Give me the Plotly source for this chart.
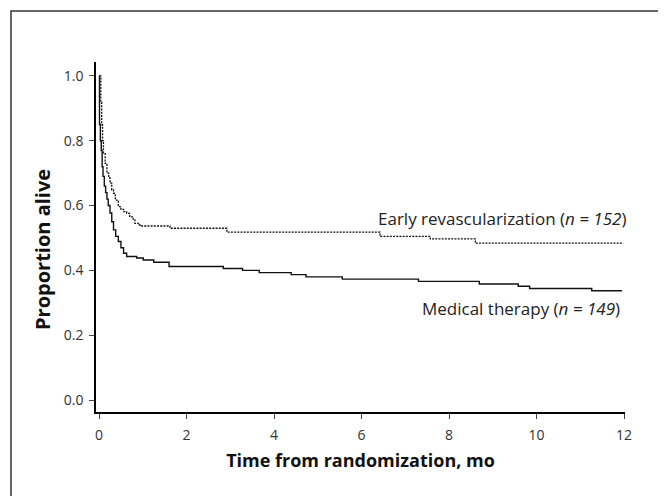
import plotly.graph_objects as go

# Kaplan-Meier step data
med_t = [0, 0.01, 0.03, 0.05, 0.07, 0.09, 0.12, 0.15, 0.18, 0.21, 0.25, 0.29, 0.33,
         0.38, 0.44, 0.50, 0.56, 0.63, 0.86, 1.01, 1.25, 1.60, 2.84, 3.28, 3.66, 4.39,
         4.73, 5.56, 7.30, 8.69, 9.58, 9.84, 11.26, 11.95]
med_s = [1.0, 0.85, 0.80, 0.77, 0.72, 0.69, 0.66, 0.64, 0.62, 0.60, 0.577, 0.55, 0.525,
         0.505, 0.489, 0.47, 0.453, 0.443, 0.438, 0.432, 0.425, 0.412, 0.406, 0.40, 0.393,
         0.387, 0.380, 0.373, 0.366, 0.358, 0.351, 0.344, 0.337, 0.337]

rev_t = [0, 0.04, 0.06, 0.08, 0.10, 0.14, 0.18, 0.22, 0.25, 0.29, 0.33, 0.37, 0.44, 0.50,
         0.56, 0.63, 0.70, 0.78, 0.82, 0.90, 0.98, 1.62, 2.92, 6.42, 7.57, 8.60, 11.98]
rev_s = [1.0, 0.92, 0.85, 0.80, 0.76, 0.73, 0.70, 0.685, 0.669, 0.648, 0.638, 0.617, 0.597,
         0.588, 0.581, 0.576, 0.565, 0.556, 0.545, 0.54, 0.537, 0.530, 0.518, 0.505, 0.497,
         0.484, 0.484]

x_ticks = [0, 2, 4, 6, 8, 10, 12]
y_ticks = [0.0, 0.2, 0.4, 0.6, 0.8, 1.0]
y_tick_text = ["0.0", "0.2", "0.4", "0.6", "0.8", "1.0"]

FONT = "Open Sans"

# page has an 8px body margin; plot area in page pixels: x 96..625, y 62..412
W, H = 658, 488
ML, MR, MT, MB = 88, 41, 54, 84
PW = W - ML - MR
PH = H - MT - MB

fig = go.Figure()
fig.add_trace(go.Scatter(x=rev_t, y=rev_s, mode="lines", line_shape="hv",
                         line=dict(color="#111", width=1.3, dash="2px,1.2px"),
                         showlegend=False))
fig.add_trace(go.Scatter(x=med_t, y=med_s, mode="lines", line_shape="hv",
                         line=dict(color="#111", width=1.4),
                         showlegend=False))

fig.add_annotation(x=1.005, y=0.561, xref="paper", yref="y", xanchor="right", yanchor="middle",
                   text="Early revascularization (<i>n = 152</i>)", showarrow=False,
                   font=dict(family=FONT, size=17, color="#222"))
fig.add_annotation(x=0.994, y=0.281, xref="paper", yref="y", xanchor="right", yanchor="middle",
                   text="Medical therapy (<i>n = 149</i>)", showarrow=False,
                   font=dict(family=FONT, size=17, color="#222"))

# y axis title (placed slightly below the plot-area centre, as in the reference)
fig.add_annotation(x=(42 - 96) / PW, y=1 - (250 - 62) / PH, xref="paper", yref="paper",
                   xanchor="center", yanchor="middle", textangle=-90,
                   text="<b>Proportion alive</b>", showarrow=False,
                   font=dict(family=FONT, size=20, color="#111"))

# outer frame
fig.add_shape(type="rect", xref="paper", yref="paper",
              x0=(11 - 96) / PW, x1=1.3, y0=-0.4, y1=1 + (62 - 11) / PH,
              line=dict(color="#333", width=1.5), layer="below")

fig.update_layout(
    width=W, height=H,
    margin=dict(l=ML, r=MR, t=MT, b=MB),
    paper_bgcolor="white", plot_bgcolor="white",
    font=dict(family=FONT),
    xaxis=dict(range=[-0.07, 12.02], tickvals=x_ticks, showgrid=False, zeroline=False,
               showline=True, linecolor="black", linewidth=1.5, automargin=False,
               ticks="outside", ticklen=5, tickwidth=1, tickcolor="#444",
               ticklabelstandoff=4,
               tickfont=dict(family=FONT, size=14, color="#333"),
               title=dict(text="<b>Time from randomization, mo</b>", standoff=12,
                          font=dict(family=FONT, size=18, color="#111"))),
    yaxis=dict(range=[-0.037, 1.043], tickvals=y_ticks, ticktext=y_tick_text,
               showgrid=False, zeroline=False, automargin=False,
               showline=True, linecolor="black", linewidth=1.5,
               ticks="outside", ticklen=5, tickwidth=1, tickcolor="#444",
               ticklabelstandoff=3,
               tickfont=dict(family=FONT, size=14, color="#333")),
)

fig.write_html("out.html")
